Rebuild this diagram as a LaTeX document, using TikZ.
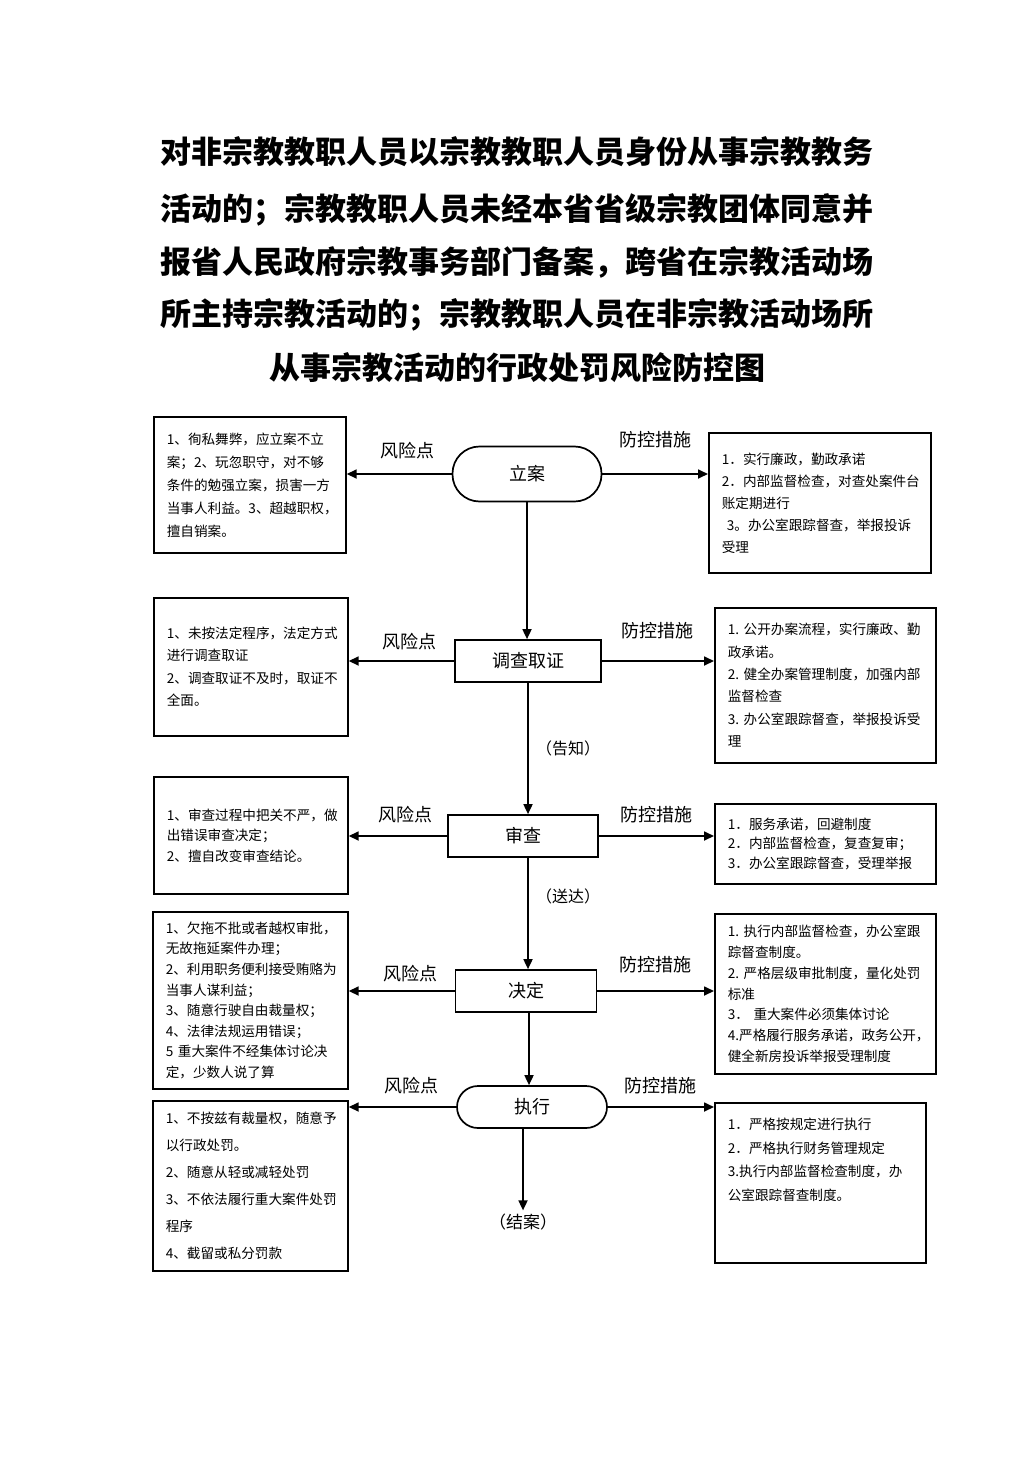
\documentclass[tikz,border=0pt]{standalone}
\usepackage{fontspec}
\setmainfont{Noto Sans CJK SC}
\usetikzlibrary{arrows.meta}
\newcommand{\bx}[1]{\fontsize{13.6}{#1}\selectfont}
\tikzset{
  box/.style={draw, line width=1.7pt, anchor=north west, align=left, inner xsep=13pt, inner ysep=2pt},
  stage/.style={draw, line width=1.7pt, minimum height=42pt, font=\fontsize{18}{18}\selectfont},
  flow/.style={line width=1.7pt, -{Triangle[length=10pt,width=9pt]}},
  tag/.style={font=\fontsize{18}{18}\selectfont},
  ttl/.style={font=\fontsize{31}{31}\selectfont\bfseries}
}

\begin{document}
\begin{tikzpicture}[x=1pt, y=-1pt]
\useasboundingbox (0,0) rectangle (1033,1461);
% title
\node[ttl] (t1) at (517,152) {对非宗教教职人员以宗教教职人员身份从事宗教教务};
\node[ttl] (t2) at (517,210) {活动的；宗教教职人员未经本省省级宗教团体同意并};
\node[ttl] (t3) at (517,262) {报省人民政府宗教事务部门备案，跨省在宗教活动场};
\node[ttl] (t4) at (517,315) {所主持宗教活动的；宗教教职人员在非宗教活动场所};
\node[ttl] (t5) at (517,368) {从事宗教活动的行政处罚风险防控图};

% stages
\node[stage, minimum width=149pt, minimum height=55pt, rounded corners=27pt] (lian) at (527,474) {立案};
\node[stage, minimum width=146pt] (diaocha) at (528,661) {调查取证};
\node[stage, minimum width=150pt] (shencha) at (523,836) {审查};
\node[stage, minimum width=141pt] (jueding) at (526,991) {决定};
\node[stage, minimum width=150pt, rounded corners=21pt] (zhixing) at (532,1107) {执行};
\node[font=\fontsize{17}{17}\selectfont] (jiean) at (523,1222) {（结案）};

% risk points
\node[box, minimum width=192pt, text width=166pt, minimum height=136pt, font=\bx{23}] (r1) at (153,416)
  {1、徇私舞弊，应立案不立\\案；2、玩忽职守，对不够\\条件的勉强立案，损害一方\\当事人利益。3、超越职权，\\擅自销案。};
\node[box, minimum width=194pt, text width=168pt, minimum height=138pt, font=\bx{22.5}] (r2) at (153,597)
  {1、未按法定程序，法定方式\\进行调查取证\\2、调查取证不及时，取证不\\全面。};
\node[box, minimum width=194pt, text width=168pt, minimum height=117pt, font=\bx{20.5}] (r3) at (153,776)
  {1、审查过程中把关不严，做\\出错误审查决定；\\2、擅自改变审查结论。};
\node[box, minimum width=195pt, text width=169pt, minimum height=177pt, font=\bx{20.6}] (r4) at (152,911)
  {1、欠拖不批或者越权审批，\\无故拖延案件办理；\\2、利用职务便利接受贿赂为\\当事人谋利益；\\3、随意行驶自由裁量权；\\4、法律法规运用错误；\\5~重大案件不经集体讨论决\\定，少数人说了算};
\node[box, minimum width=195pt, text width=169pt, minimum height=170pt, font=\bx{27}] (r5) at (152,1100)
  {1、不按兹有裁量权，随意予\\以行政处罚。\\2、随意从轻或减轻处罚\\3、不依法履行重大案件处罚\\程序\\4、截留或私分罚款};

% measures
\node[box, minimum width=222pt, text width=196pt, minimum height=140pt, font=\bx{22}] (m1) at (708,432)
  {1．实行廉政，勤政承诺\\2．内部监督检查，对查处案件台\\账定期进行\\\hspace*{5pt}3。办公室跟踪督查，举报投诉\\受理};
\node[box, minimum width=221pt, text width=195pt, minimum height=155pt, font=\bx{22.4}] (m2) at (714,607)
  {1.~公开办案流程，实行廉政、勤\\政承诺。\\2.~健全办案管理制度，加强内部\\监督检查\\3.~办公室跟踪督查，举报投诉受\\理};
\node[box, minimum width=221pt, text width=195pt, minimum height=80pt, font=\bx{19.5}] (m3) at (714,803)
  {1．服务承诺，回避制度\\2．内部监督检查，复查复审；\\3．办公室跟踪督查，受理举报};
\node[box, minimum width=221pt, text width=195pt, minimum height=160pt, font=\bx{20.8}] (m4) at (714,913)
  {1.~执行内部监督检查，办公室跟\\踪督查制度。\\2.~严格层级审批制度，量化处罚\\标准\\3．~重大案件必须集体讨论\\4.严格履行服务承诺，政务公开，\\健全新房投诉举报受理制度};
\node[box, minimum width=211pt, text width=185pt, minimum height=160pt, font=\bx{23.7}] (m5) at (714,1102)
  {1．严格按规定进行执行\\2．严格执行财务管理规定\\3.执行内部监督检查制度，办\\公室跟踪督查制度。\\\mbox{}\\\mbox{}};

% main flow
\draw[flow] (lian.south) -- (lian.south |- diaocha.north);
\draw[flow] (diaocha.south) -- (diaocha.south |- shencha.north) node[midway, right=4pt, font=\fontsize{16}{16}\selectfont] {（告知）};
\draw[flow] (shencha.south) ++(5,0) coordinate (s1) -- (s1 |- jueding.north) node[pos=0.35, right=4pt, font=\fontsize{16}{16}\selectfont] {（送达）};
\draw[flow] (jueding.south) ++(3,0) coordinate (j1) -- (j1 |- zhixing.north);
\draw[flow] (zhixing.south) ++(-9,0) coordinate (z1) -- (z1 |- jiean.north);

% left: risk points
\draw[flow] (lian.west) -- (lian.west -| r1.east) node[pos=0.42, above=11pt, tag] {风险点};
\draw[flow] (diaocha.west) -- (diaocha.west -| r2.east) node[pos=0.42, above=7pt, tag] {风险点};
\draw[flow] (shencha.west) -- (shencha.west -| r3.east) node[pos=0.42, above=9pt, tag] {风险点};
\draw[flow] (jueding.west) -- (jueding.west -| r4.east) node[pos=0.42, above=5pt, tag] {风险点};
\draw[flow] (zhixing.west) -- (zhixing.west -| r5.east) node[pos=0.42, above=9pt, tag] {风险点};

% right: measures
\draw[flow] (lian.east) -- (lian.east -| m1.west) node[midway, above=22pt, tag] {防控措施};
\draw[flow] (diaocha.east) -- (diaocha.east -| m2.west) node[midway, above=18pt, tag] {防控措施};
\draw[flow] (shencha.east) -- (shencha.east -| m3.west) node[midway, above=9pt, tag] {防控措施};
\draw[flow] (jueding.east) -- (jueding.east -| m4.west) node[midway, above=14pt, tag] {防控措施};
\draw[flow] (zhixing.east) -- (zhixing.east -| m5.west) node[midway, above=9pt, tag] {防控措施};
\end{tikzpicture}
\end{document}
